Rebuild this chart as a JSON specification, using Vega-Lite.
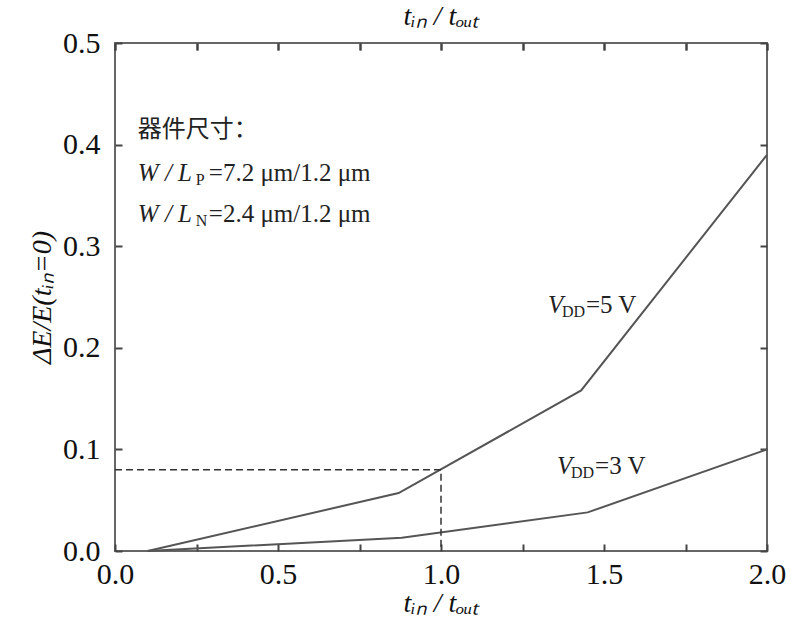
{
  "$schema": "https://vega.github.io/schema/vega-lite/v6.json",
  "width": 652,
  "height": 508,
  "autosize": {"type": "none"},
  "padding": {"left": 115, "top": 43, "right": 26, "bottom": 68},
  "background": "white",
  "config": {
    "view": {"stroke": "#666", "strokeWidth": 2},
    "axis": {
      "labelFont": "Liberation Serif",
      "labelFontSize": 30,
      "labelColor": "#111",
      "titleFont": "Liberation Serif",
      "titleFontSize": 28,
      "titleFontWeight": "normal",
      "titleColor": "#111",
      "grid": false,
      "labelFlush": false,
      "labelOverlap": false
    }
  },
  "datasets": {
    "curves": [
      {"series": "5V", "t": 0.1, "e": 0.0},
      {"series": "5V", "t": 0.87, "e": 0.057},
      {"series": "5V", "t": 1.43, "e": 0.158},
      {"series": "5V", "t": 2.0, "e": 0.39},
      {"series": "3V", "t": 0.1, "e": 0.0},
      {"series": "3V", "t": 0.88, "e": 0.013},
      {"series": "3V", "t": 1.45, "e": 0.038},
      {"series": "3V", "t": 2.0, "e": 0.1}
    ],
    "guide": [
      {"t": 0.0, "e": 0.08},
      {"t": 1.0, "e": 0.08},
      {"t": 1.0, "e": 0.0}
    ],
    "vdd": [
      {"t": 1.328, "e": 0.234, "main": "V", "sub": "DD", "rest": "=5 V"},
      {"t": 1.356, "e": 0.076, "main": "V", "sub": "DD", "rest": "=3 V"}
    ],
    "wl": [
      {"t": 0.07, "e": 0.364, "main": "W / L", "sub": "P", "rest": "=7.2 μm/1.2 μm"},
      {"t": 0.07, "e": 0.324, "main": "W / L", "sub": "N", "rest": "=2.4 μm/1.2 μm"}
    ],
    "head": [
      {"t": 0.07, "e": 0.407, "label": "器件尺寸："}
    ]
  },
  "layer": [
    {
      "data": {"name": "curves"},
      "mark": {"type": "line", "stroke": "#555", "strokeWidth": 2},
      "encoding": {
        "x": {
          "field": "t", "type": "quantitative",
          "scale": {"domain": [0, 2], "nice": false, "zero": false},
          "axis": {
            "orient": "bottom",
            "title": "tᵢₙ / tₒᵤₜ",
            "titleFontStyle": "italic",
            "titlePadding": 0,
            "values": [0, 0.25, 0.5, 0.75, 1, 1.25, 1.5, 1.75, 2],
            "labelExpr": "datum.value % 0.5 == 0 ? format(datum.value, '.1f') : ''",
            "domain": false,
            "ticks": false,
            "labelPadding": 8,
            "grid": true,
            "gridColor": "#444",
            "gridWidth": 2,
            "gridOpacity": 1,
            "gridDash": [7, 494, 7, 1000]
          }
        },
        "y": {
          "field": "e", "type": "quantitative",
          "scale": {"domain": [0, 0.5], "nice": false, "zero": false},
          "axis": {
            "orient": "left",
            "title": "ΔE/E(tᵢₙ=0)",
            "titleFontStyle": "italic",
            "titlePadding": 6,
            "values": [0, 0.1, 0.2, 0.3, 0.4, 0.5],
            "format": ".1f",
            "domain": false,
            "ticks": true,
            "tickSize": 7,
            "tickColor": "#444",
            "tickWidth": 2,
            "tickOpacity": 1,
            "offset": -7,
            "labelPadding": 15
          }
        },
        "detail": {"field": "series"}
      }
    },
    {
      "data": {"name": "guide"},
      "mark": {"type": "line", "stroke": "#333", "strokeWidth": 1.5, "strokeDash": [7, 4]},
      "encoding": {
        "x": {
          "field": "t", "type": "quantitative",
          "axis": {
            "orient": "top",
            "title": "tᵢₙ / tₒᵤₜ",
            "titleFontStyle": "italic",
            "titlePadding": 12,
            "values": [0, 0.25, 0.5, 0.75, 1, 1.25, 1.5, 1.75, 2],
            "labels": false,
            "domain": false,
            "ticks": true,
            "tickSize": 7,
            "tickColor": "#444",
            "tickWidth": 2,
            "tickOpacity": 1,
            "offset": -7
          }
        },
        "y": {
          "field": "e", "type": "quantitative",
          "axis": {
            "orient": "right",
            "title": null,
            "values": [0, 0.1, 0.2, 0.3, 0.4, 0.5],
            "labels": false,
            "domain": false,
            "ticks": true,
            "tickSize": 7,
            "tickColor": "#444",
            "tickWidth": 2,
            "tickOpacity": 1,
            "offset": -7
          }
        },
        "order": {"field": "e", "sort": "descending"}
      }
    },
    {
      "data": {"name": "head"},
      "mark": {"type": "text", "font": "Noto Sans CJK SC", "fontSize": 24, "align": "left", "baseline": "alphabetic", "color": "#222"},
      "encoding": {
        "x": {"field": "t", "type": "quantitative", "axis": null},
        "y": {"field": "e", "type": "quantitative", "axis": null},
        "text": {"field": "label"}
      }
    },
    {
      "data": {"name": "wl"},
      "mark": {"type": "text", "font": "Liberation Serif", "fontStyle": "italic", "fontSize": 25, "align": "left", "baseline": "alphabetic", "color": "#222"},
      "encoding": {
        "x": {"field": "t", "type": "quantitative", "axis": null},
        "y": {"field": "e", "type": "quantitative", "axis": null},
        "text": {"field": "main"}
      }
    },
    {
      "data": {"name": "wl"},
      "mark": {"type": "text", "font": "Liberation Serif", "fontSize": 16, "align": "left", "baseline": "alphabetic", "dx": 58, "dy": 4, "color": "#222"},
      "encoding": {
        "x": {"field": "t", "type": "quantitative", "axis": null},
        "y": {"field": "e", "type": "quantitative", "axis": null},
        "text": {"field": "sub"}
      }
    },
    {
      "data": {"name": "wl"},
      "mark": {"type": "text", "font": "Liberation Serif", "fontSize": 25, "align": "left", "baseline": "alphabetic", "dx": 71, "color": "#222"},
      "encoding": {
        "x": {"field": "t", "type": "quantitative", "axis": null},
        "y": {"field": "e", "type": "quantitative", "axis": null},
        "text": {"field": "rest"}
      }
    },
    {
      "data": {"name": "vdd"},
      "mark": {"type": "text", "font": "Liberation Serif", "fontStyle": "italic", "fontSize": 25, "align": "left", "baseline": "alphabetic", "color": "#222"},
      "encoding": {
        "x": {"field": "t", "type": "quantitative", "axis": null},
        "y": {"field": "e", "type": "quantitative", "axis": null},
        "text": {"field": "main"}
      }
    },
    {
      "data": {"name": "vdd"},
      "mark": {"type": "text", "font": "Liberation Serif", "fontSize": 16, "align": "left", "baseline": "alphabetic", "dx": 14, "dy": 4, "color": "#222"},
      "encoding": {
        "x": {"field": "t", "type": "quantitative", "axis": null},
        "y": {"field": "e", "type": "quantitative", "axis": null},
        "text": {"field": "sub"}
      }
    },
    {
      "data": {"name": "vdd"},
      "mark": {"type": "text", "font": "Liberation Serif", "fontSize": 25, "align": "left", "baseline": "alphabetic", "dx": 38, "color": "#222"},
      "encoding": {
        "x": {"field": "t", "type": "quantitative", "axis": null},
        "y": {"field": "e", "type": "quantitative", "axis": null},
        "text": {"field": "rest"}
      }
    }
  ]
}
